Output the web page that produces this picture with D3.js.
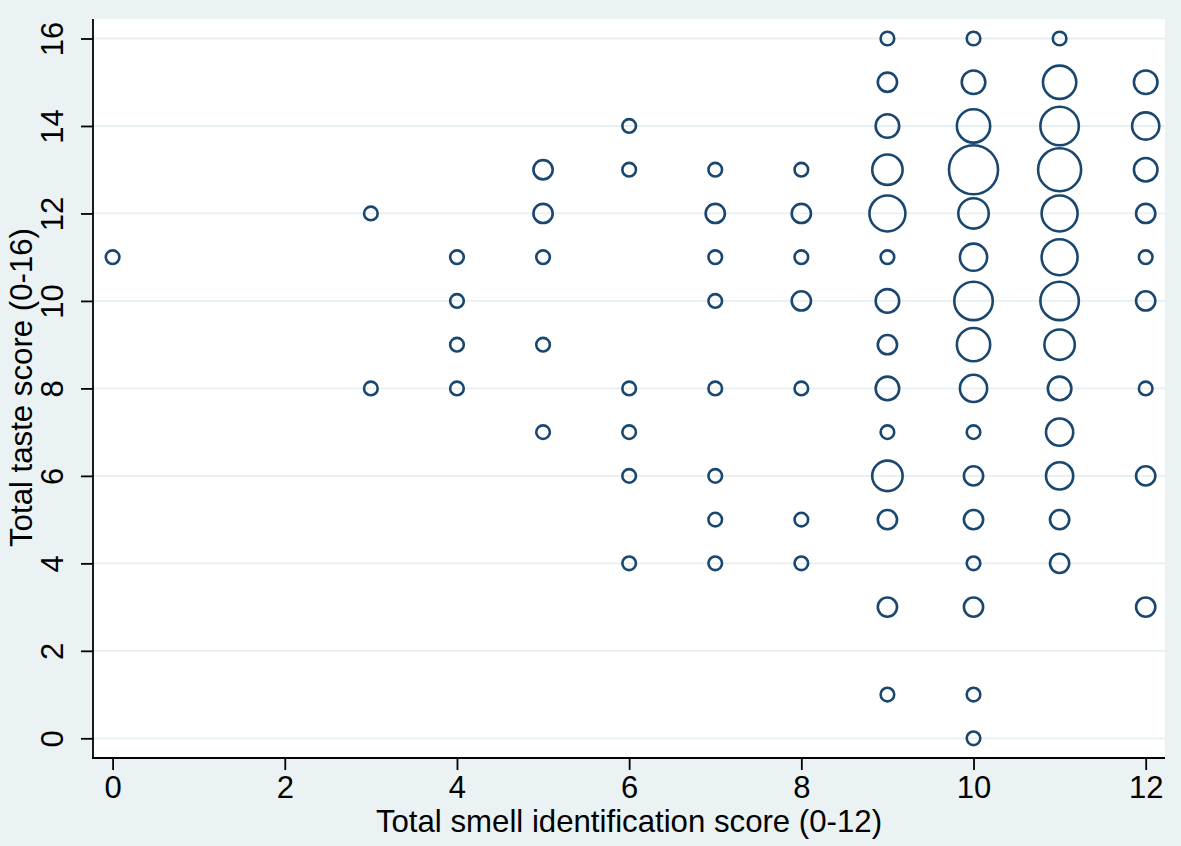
<!DOCTYPE html>
<html>
<head>
<meta charset="utf-8">
<script src="https://cdn.jsdelivr.net/npm/d3@7"></script>
<style>
  html, body { margin: 0; padding: 0; background: #EAF2F3; }
  svg { display: block; }
  text { font-family: "Liberation Sans", Arial, sans-serif; fill: #000; }
</style>
</head>
<body>
<svg id="chart" width="1181" height="846"></svg>
<script>
// ---- Data ----
const smellScore = [
  0,
  3, 3,
  4, 4, 4, 4,
  5, 5, 5, 5, 5,
  6, 6, 6, 6, 6, 6,
  7, 7, 7, 7, 7, 7, 7, 7,
  8, 8, 8, 8, 8, 8, 8,
  9, 9, 9, 9, 9, 9, 9, 9, 9, 9, 9, 9, 9, 9,
  10, 10, 10, 10, 10, 10, 10, 10, 10, 10, 10, 10, 10, 10, 10, 10,
  11, 11, 11, 11, 11, 11, 11, 11, 11, 11, 11, 11, 11,
  12, 12, 12, 12, 12, 12, 12, 12, 12
];
const tasteScore = [
  11,
  12, 8,
  11, 10, 9, 8,
  13, 12, 11, 9, 7,
  14, 13, 8, 7, 6, 4,
  13, 12, 11, 10, 8, 6, 5, 4,
  13, 12, 11, 10, 8, 5, 4,
  16, 15, 14, 13, 12, 11, 10, 9, 8, 7, 6, 5, 3, 1,
  16, 15, 14, 13, 12, 11, 10, 9, 8, 7, 6, 5, 4, 3, 1, 0,
  16, 15, 14, 13, 12, 11, 10, 9, 8, 7, 6, 5, 4,
  15, 14, 13, 12, 11, 10, 8, 6, 3
];
const frequency = [
  1,
  1, 1,
  1, 1, 1, 1,
  2, 2, 1, 1, 1,
  1, 1, 1, 1, 1, 1,
  1, 2, 1, 1, 1, 1, 1, 1,
  1, 2, 1, 2, 1, 1, 1,
  1, 2, 3, 5, 7, 1, 3, 2, 3, 1, 5, 2, 2, 1,
  1, 3, 6, 13, 5, 4, 8, 6, 4, 1, 2, 2, 1, 2, 1, 1,
  1, 6, 8, 10, 7, 7, 8, 5, 3, 4, 4, 2, 2,
  3, 4, 3, 2, 1, 2, 1, 2, 2
];
const xTicks = [0, 2, 4, 6, 8, 10, 12];
const yTicks = [0, 2, 4, 6, 8, 10, 12, 14, 16];
const xTitle = "Total smell identification score (0-12)";
const yTitle = "Total taste score (0-16)";

const points = smellScore.map((s, i) => ({ x: s, y: tasteScore[i], n: frequency[i] }));

// ---- Layout ----
const W = 1181, H = 846;
const plot = { left: 93, right: 1165, top: 19, bottom: 758 };
const navy = "#1A476F";
const gridCol = "#E6EFF1";

const svg = d3.select("#chart");

const x = d3.scaleLinear().domain([0, 12]).range([112.6, 1145.7]);
const y = d3.scaleLinear().domain([0, 16]).range([738.3, 38.5]);
const r = d3.scaleSqrt().domain([0, 1]).range([0, 6.8]);

// background
svg.append("rect").attr("width", W).attr("height", H).attr("fill", "#EAF2F3");
svg.append("rect")
  .attr("x", plot.left).attr("y", plot.top)
  .attr("width", plot.right - plot.left).attr("height", plot.bottom - plot.top)
  .attr("fill", "#fff");

// gridlines
svg.append("g").selectAll("line").data(yTicks).join("line")
  .attr("x1", plot.left).attr("x2", plot.right)
  .attr("y1", d => y(d)).attr("y2", d => y(d))
  .attr("stroke", gridCol).attr("stroke-width", 1.8);

// points
svg.append("g").selectAll("circle").data(points).join("circle")
  .attr("cx", d => x(d.x)).attr("cy", d => y(d.y))
  .attr("r", d => r(d.n))
  .attr("fill", "none").attr("stroke", navy).attr("stroke-width", 2.6);

// x axis
const xAxis = svg.append("g")
  .attr("transform", `translate(0,${plot.bottom})`)
  .call(d3.axisBottom(x).tickValues(xTicks).tickSize(12).tickSizeOuter(0).tickPadding(7));
xAxis.select(".domain").remove();
xAxis.selectAll(".tick line").attr("stroke", "#000").attr("stroke-width", 1.8);
xAxis.selectAll(".tick text")
  .attr("font-size", 31).attr("font-family", "Liberation Sans, Arial, sans-serif")
  .attr("dy", null).attr("y", 40).attr("fill", "#000");

// y axis
const yAxis = svg.append("g")
  .attr("transform", `translate(${plot.left},0)`)
  .call(d3.axisLeft(y).tickValues(yTicks).tickSize(12).tickSizeOuter(0));
yAxis.select(".domain").remove();
yAxis.selectAll(".tick line").attr("stroke", "#000").attr("stroke-width", 1.8);
yAxis.selectAll(".tick text")
  .attr("font-size", 31).attr("font-family", "Liberation Sans, Arial, sans-serif")
  .attr("x", null).attr("dy", null)
  .attr("text-anchor", "middle")
  .attr("transform", "translate(-30,0) rotate(-90)")
  .attr("fill", "#000");

// axis lines
svg.append("line").attr("x1", plot.left).attr("x2", plot.left)
  .attr("y1", plot.top).attr("y2", plot.bottom + 0.9)
  .attr("stroke", "#000").attr("stroke-width", 1.8);
svg.append("line").attr("x1", plot.left - 0.9).attr("x2", plot.right)
  .attr("y1", plot.bottom).attr("y2", plot.bottom)
  .attr("stroke", "#000").attr("stroke-width", 1.8);

// titles
svg.append("text")
  .attr("x", (plot.left + plot.right) / 2).attr("y", 832)
  .attr("text-anchor", "middle").attr("font-size", 31.2)
  .text(xTitle);
svg.append("text")
  .attr("transform", `translate(32,${(plot.top + plot.bottom) / 2 - 1}) rotate(-90)`)
  .attr("text-anchor", "middle").attr("font-size", 31.2)
  .text(yTitle);
</script>
</body>
</html>
